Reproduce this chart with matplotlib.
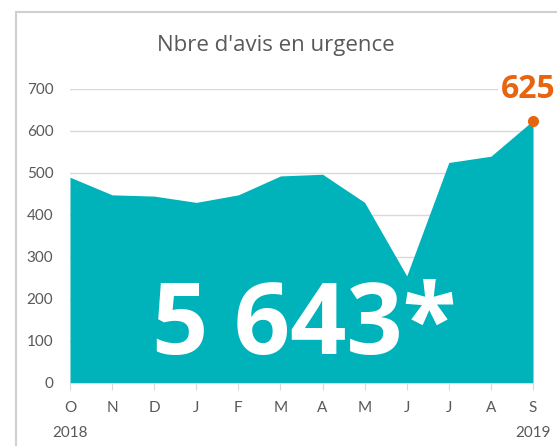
import matplotlib
matplotlib.use('Agg')
import matplotlib.pyplot as plt
from matplotlib.patches import Rectangle

# --- data ---
months = ["O", "N", "D", "J", "F", "M", "A", "M", "J", "J", "A", "S"]
values = [490, 448, 445, 430, 448, 493, 497, 430, 255, 525, 540, 625]
years = ["2018", "2019"]
yticks = [0, 100, 200, 300, 400, 500, 600, 700]
total_label = "5 643*"
title = "Nbre d'avis en urgence"

teal = "#00B2BA"
orange = "#E8650F"
grey = "#595959"

fig = plt.figure(figsize=(5.57, 4.46), dpi=100)
fig.patches.append(Rectangle((16/557, -0.1), 1.0, 1 - 12/446 + 0.1, transform=fig.transFigure,
                             fill=False, edgecolor="#D0D0D0", lw=1.5))
ax = fig.add_axes([70/557, 63/446, 463/557, 294/446])

x = list(range(len(months)))
ax.fill_between(x, values, 0, color=teal, lw=0, zorder=2)
ax.plot(x[-1], values[-1], "o", color=orange, ms=7, zorder=4, clip_on=False)
ax.text(x[-1] - 0.12, 700, str(values[-1]), color=orange, fontsize=23, fontweight="bold",
        family="Open Sans", ha="center", va="center", zorder=5,
        bbox=dict(facecolor="white", edgecolor="none", pad=2))

ax.set_xlim(0, len(months) - 1)
ax.set_ylim(0, 700)
ax.set_yticks(yticks)
ax.yaxis.grid(True, color="#D9D9D9", lw=1)
ax.set_axisbelow(True)
for s in ["top", "right", "left"]:
    ax.spines[s].set_visible(False)
ax.spines["bottom"].set_color("#D9D9D9")
ax.tick_params(axis="y", length=0, pad=12, labelsize=11, labelcolor=grey)
ax.set_xticks(x)
ax.set_xticklabels(months, family="Lato", fontsize=11, color=grey)
ax.tick_params(axis="x", length=5, color="#D9D9D9", pad=8)
for lab in ax.get_yticklabels():
    lab.set_family("Lato")

ax.text(0, -0.17, years[0], transform=ax.get_xaxis_transform(), ha="center", va="center",
        family="Lato", fontsize=11, color=grey)
ax.text(x[-1], -0.17, years[1], transform=ax.get_xaxis_transform(), ha="center", va="center",
        family="Lato", fontsize=11, color=grey)

ax.text(0.505, 0.185, total_label, transform=ax.transAxes, ha="center", va="center",
        color="white", fontsize=71, fontweight="bold", family="Open Sans", zorder=6)

fig.text(276/557, 1 - 46/446, title, ha="center", va="center", fontsize=16,
         color=grey, family="Open Sans")

fig.savefig("out.png", dpi=100)
